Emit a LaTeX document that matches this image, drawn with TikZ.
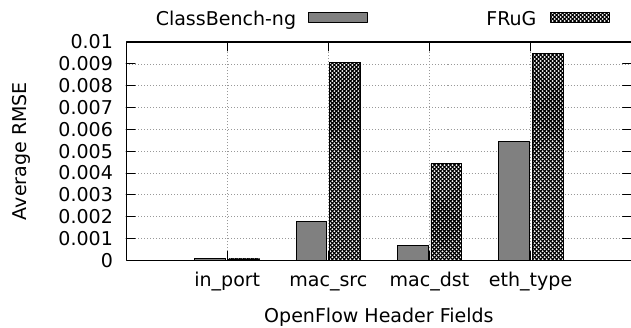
\documentclass[tikz,border=0pt]{standalone}
\usepackage{fontspec}
\setmainfont{DejaVu Sans}
\usepackage{xcolor}
\usetikzlibrary{patterns.meta}

\tikzdeclarepattern{
  name=frugcheck,
  type=uncolored,
  bounding box={(-0.6pt,-0.6pt) and (4.6pt,4.6pt)},
  tile size={(4pt,4pt)},
  code={
    \draw [line width=1.1pt,line cap=round] (0pt,0pt) -- (4pt,4pt) (0pt,4pt) -- (4pt,0pt);
  }
}

\begin{document}
\begin{tikzpicture}[line cap=round,line join=round,x=101pt,y=21.8pt,
    font=\fontsize{19}{19}\selectfont,
    gridline/.style={line width=0.7pt,color=gray!80,line cap=butt,dash pattern=on 1pt off 2pt},
    cbbar/.style={fill=black!50,draw=black,line width=0.8pt},
    frugbar/.style={preaction={fill=white},pattern=frugcheck,pattern color=black,draw=black,line width=0.8pt},
    ticklabel/.style={inner sep=0pt,anchor=east}]
                \useasboundingbox (-2.2475,-3.073) rectangle (3.993,11.927);
                % grid
                \draw [gridline] (-1,1)-- (4,1) (-1,2)-- (4,2) (-1,3)-- (4,3) (-1,4)-- (4,4) (-1,5)-- (4,5)
                    (-1,6)-- (4,6) (-1,7)-- (4,7) (-1,8)-- (4,8) (-1,9)-- (4,9);
                \draw [gridline] (0,0)-- (0,10) (1,0)-- (1,10) (2,0)-- (2,10) (3,0)-- (3,10);
                % ClassBench-ng bars
                \draw [cbbar] (-0.32,0) rectangle (-0.015,0.1);
                \draw [cbbar] (0.68,0) rectangle (0.985,1.79);
                \draw [cbbar] (1.68,0) rectangle (1.985,0.67);
                \draw [cbbar] (2.68,0) rectangle (2.985,5.47);
                % FRuG bars
                \draw [frugbar] (0.015,0) rectangle (0.32,0.06);
                \draw [frugbar] (1.015,0) rectangle (1.32,9.07);
                \draw [frugbar] (2.015,0) rectangle (2.32,4.43);
                \draw [frugbar] (3.015,0) rectangle (3.32,9.47);
                % ticks and frame
                \draw [line width=0.9pt] (-1,1)-- (-0.91,1) (-1,2)-- (-0.91,2) (-1,3)-- (-0.91,3) (-1,4)-- (-0.91,4)
                    (-1,5)-- (-0.91,5) (-1,6)-- (-0.91,6) (-1,7)-- (-0.91,7) (-1,8)-- (-0.91,8) (-1,9)-- (-0.91,9);
                \draw [line width=0.9pt] (4,1)-- (3.91,1) (4,2)-- (3.91,2) (4,3)-- (3.91,3) (4,4)-- (3.91,4)
                    (4,5)-- (3.91,5) (4,6)-- (3.91,6) (4,7)-- (3.91,7) (4,8)-- (3.91,8) (4,9)-- (3.91,9);
                \draw [line width=0.9pt] (0,0)-- (0,0.41) (1,0)-- (1,0.41) (2,0)-- (2,0.41) (3,0)-- (3,0.41);
                \draw [line width=0.9pt] (0,10)-- (0,9.59) (1,10)-- (1,9.59) (2,10)-- (2,9.59) (3,10)-- (3,9.59);
                \draw [line width=1.2pt] (-1,0) rectangle (4,10);
                % y tick labels
                \node [ticklabel] (y0) at (-1.129,0) {0};
                \node [ticklabel] (y1) at (-1.129,1) {0.001};
                \node [ticklabel] (y2) at (-1.129,2) {0.002};
                \node [ticklabel] (y3) at (-1.129,3) {0.003};
                \node [ticklabel] (y4) at (-1.129,4) {0.004};
                \node [ticklabel] (y5) at (-1.129,5) {0.005};
                \node [ticklabel] (y6) at (-1.129,6) {0.006};
                \node [ticklabel] (y7) at (-1.129,7) {0.007};
                \node [ticklabel] (y8) at (-1.129,8) {0.008};
                \node [ticklabel] (y9) at (-1.129,9) {0.009};
                \node [ticklabel] (y10) at (-1.129,10) {0.01};
                % x tick labels
                \node [inner sep=0pt,anchor=base] (inport) at (0,-1.193) {in\_port};
                \node [inner sep=0pt,anchor=base] (macsrc) at (1,-1.193) {mac\_src};
                \node [inner sep=0pt,anchor=base] (macdst) at (2,-1.193) {mac\_dst};
                \node [inner sep=0pt,anchor=base] (ethtype) at (3,-1.193) {eth\_type};
                % axis titles
                \node [inner sep=0pt,anchor=base] (xtitle) at (1.5,-2.844) {OpenFlow Header Fields};
                \node [inner sep=0pt,anchor=base,rotate=90] (ytitle) at (-1.99,5) {Average RMSE};
                % legend
                \node [inner sep=0pt,anchor=base east] (cblabel) at (0.683,10.78) {ClassBench-ng};
                \draw [cbbar] (0.805,10.9) rectangle (1.383,11.37);
                \node [inner sep=0pt,anchor=base east] (fruglabel) at (3.06,10.78) {FRuG};
                \draw [frugbar] (3.198,10.9) rectangle (3.775,11.37);
            \end{tikzpicture}
\end{document}
